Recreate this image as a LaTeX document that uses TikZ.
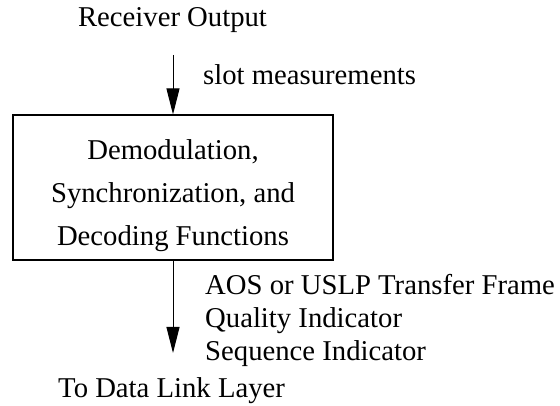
\documentclass[tikz,border=0pt]{standalone}
\usepackage{fontspec}
\setmainfont{Liberation Serif}
\usetikzlibrary{arrows.meta}

\tikzset{
	lbl/.style={inner sep=0pt, font=\fontsize{28.7}{33}\selectfont},
	fnbox/.style={draw, line width=1.1pt, minimum width=320pt, minimum height=145pt, inner sep=0pt},
	flow/.style={line width=1pt, arrows={-Triangle[length=26pt, width=13pt]}}
}

\begin{document}
\begin{tikzpicture}[x=1pt, y=-1pt]
	\useasboundingbox (0,0) rectangle (560,406);
	\node [lbl, anchor=base] (recv) at (172.5, 27) {Receiver Output};
	\node [fnbox] (box) at (173, 187.5) {};
	\node [lbl, align=center, font=\fontsize{28.7}{43}\selectfont] (boxtext) at ([yshift=-8pt] box.center) {Demodulation,\\Synchronization, and\\Decoding Functions};
	\coordinate (in) at (173, 55);
	\coordinate (tip) at (173, 353);
	\draw [flow] (in) -- (box.north);
	\draw [flow] (box.south) -- (tip);
	\node [lbl, anchor=base west] (slot) at (203, 85) {slot measurements};
	\node [lbl, anchor=north west, align=left] (frames) at (205, 274.5) {AOS or USLP Transfer Frame\\Quality Indicator\\Sequence Indicator};
	\node [lbl, anchor=base west] (dll) at (58, 397) {To Data Link Layer};
\end{tikzpicture}
\end{document}
